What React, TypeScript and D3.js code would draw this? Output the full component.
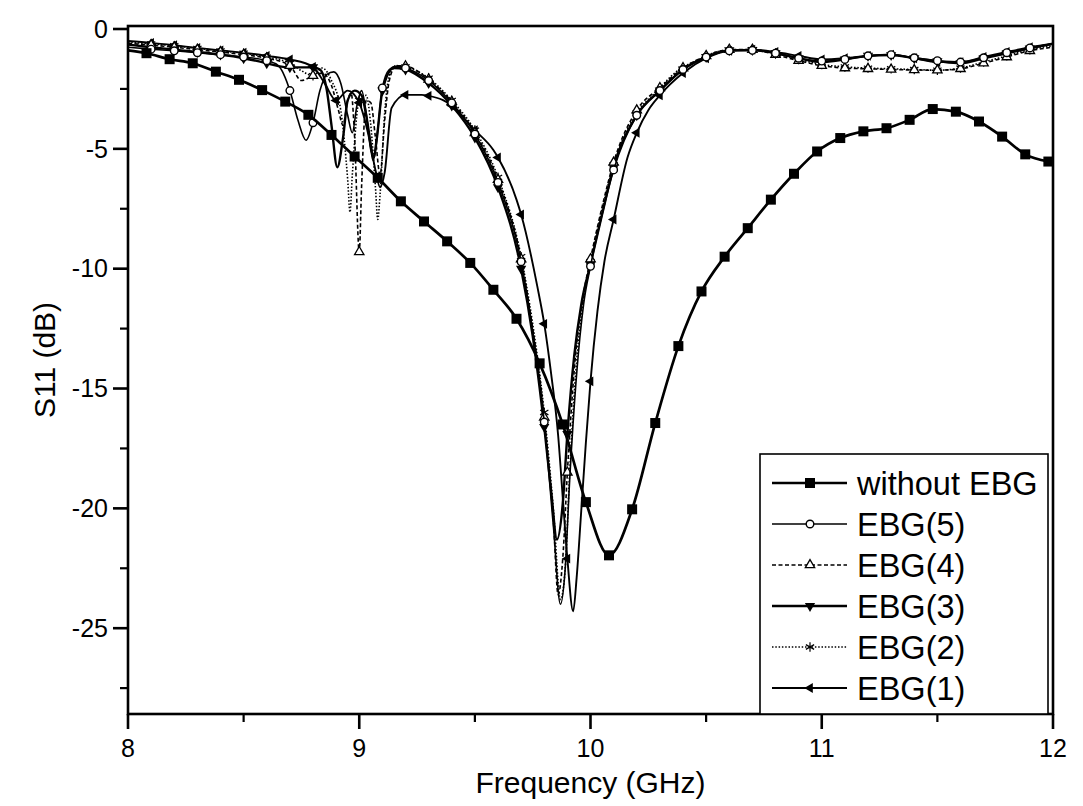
import React from 'react';
import * as d3 from 'd3';

type Pt = [number, number];

const W = 1083;
const H = 806;
const PLOT = { left: 128, right: 1053, top: 26, bottom: 714 };

const xDomain: [number, number] = [8, 12];
const yDomain: [number, number] = [-28.58, 0.125];
const xTicks = [8, 9, 10, 11, 12];
const xMinorTicks = [8.5, 9.5, 10.5, 11.5];
const yTicks = [0, -5, -10, -15, -20, -25];
const yMinorTicks = [-2.5, -7.5, -12.5, -17.5, -22.5, -27.5];

const xTitle = 'Frequency (GHz)';
const yTitle = 'S11 (dB)';
const legendNames = ['without EBG', 'EBG(5)', 'EBG(4)', 'EBG(3)', 'EBG(2)', 'EBG(1)'];

const withoutEbg: Pt[] = [
  [8.0, -0.89], [8.08, -1.01], [8.18, -1.26], [8.28, -1.43], [8.38, -1.78], [8.48, -2.12],
  [8.58, -2.55], [8.68, -3.03], [8.78, -3.58], [8.88, -4.42], [8.98, -5.32], [9.08, -6.21],
  [9.18, -7.19], [9.28, -8.03], [9.38, -8.86], [9.48, -9.76], [9.58, -10.88], [9.68, -12.09],
  [9.78, -13.95], [9.88, -16.5], [9.98, -19.74], [10.08, -21.96], [10.18, -20.04], [10.28, -16.44],
  [10.38, -13.23], [10.48, -10.95], [10.58, -9.5], [10.68, -8.31], [10.78, -7.12], [10.88, -6.04],
  [10.98, -5.11], [11.08, -4.55], [11.18, -4.27], [11.28, -4.14], [11.38, -3.79], [11.48, -3.34],
  [11.58, -3.45], [11.68, -3.86], [11.78, -4.49], [11.88, -5.23], [11.98, -5.53],
];

const ebg5: Pt[] = [
  [8.0, -0.76], [8.1, -0.84], [8.2, -0.91], [8.3, -0.99], [8.4, -1.07], [8.5, -1.17], [8.6, -1.32],
  [8.65, -1.53], [8.7, -2.57], [8.735, -3.81], [8.77, -4.64], [8.8, -3.91], [8.83, -2.57], [8.86, -1.89],
  [8.89, -1.79], [8.92, -2.26], [8.95, -3.6], [8.97, -4.33], [8.99, -3.19], [9.01, -2.57], [9.03, -3.5],
  [9.05, -5.05], [9.065, -5.36], [9.08, -4.22], [9.1, -2.46], [9.13, -1.69], [9.16, -1.55], [9.2, -1.63],
  [9.3, -2.15], [9.4, -3.08], [9.5, -4.38], [9.6, -6.4], [9.7, -9.71], [9.75, -12.6], [9.8, -16.4],
  [9.84, -20.8], [9.87, -24.0], [9.89, -22.6], [9.91, -18.8], [9.94, -14.4], [9.97, -11.5],
  [10.0, -9.9], [10.05, -7.74], [10.1, -5.88], [10.2, -3.6], [10.3, -2.57], [10.4, -1.69], [10.5, -1.17],
  [10.6, -0.91], [10.7, -0.89], [10.8, -1.01], [10.9, -1.22], [11.0, -1.34], [11.1, -1.27], [11.2, -1.12],
  [11.3, -1.07], [11.4, -1.2], [11.5, -1.32], [11.6, -1.38], [11.7, -1.2], [11.8, -0.99],
  [11.9, -0.79], [12.0, -0.62],
];

const ebg4: Pt[] = [
  [8.0, -0.6], [8.1, -0.67], [8.2, -0.76], [8.3, -0.86], [8.4, -0.96], [8.5, -1.07], [8.6, -1.22],
  [8.7, -1.53], [8.75, -2.15], [8.8, -1.95], [8.84, -1.84], [8.88, -2.36], [8.91, -3.39], [8.93, -4.02],
  [8.95, -2.98], [8.965, -2.67], [8.98, -4.53], [9.0, -9.3], [9.01, -6.6], [9.03, -2.98], [9.05, -3.08],
  [9.07, -4.53], [9.09, -6.09], [9.11, -3.81], [9.13, -2.15], [9.16, -1.53], [9.2, -1.55], [9.3, -2.1],
  [9.4, -3.03], [9.5, -4.33], [9.6, -6.29], [9.7, -9.6], [9.75, -12.5], [9.8, -16.2], [9.84, -20.6],
  [9.86, -23.6], [9.88, -22.1], [9.9, -18.5], [9.93, -14.2], [9.97, -11.05], [10.0, -9.6],
  [10.05, -7.43], [10.1, -5.57], [10.2, -3.39], [10.3, -2.46], [10.4, -1.63], [10.5, -1.12], [10.6, -0.86],
  [10.7, -0.86], [10.8, -1.07], [10.9, -1.32], [11.0, -1.53], [11.1, -1.63], [11.2, -1.66], [11.3, -1.69],
  [11.4, -1.71], [11.5, -1.72], [11.6, -1.66], [11.7, -1.43], [11.8, -1.17], [11.9, -0.91], [12.0, -0.76],
];

const ebg3: Pt[] = [
  [8.0, -0.65], [8.1, -0.76], [8.2, -0.86], [8.3, -0.96], [8.4, -1.07], [8.5, -1.22], [8.6, -1.43],
  [8.65, -1.55], [8.7, -1.6], [8.8, -1.6], [8.83, -1.69], [8.86, -2.57], [8.88, -4.02], [8.905, -5.77],
  [8.93, -4.53], [8.95, -2.98], [8.98, -2.57], [9.01, -2.77], [9.03, -3.6], [9.05, -4.84], [9.06, -5.46],
  [9.075, -4.64], [9.1, -2.57], [9.15, -1.63], [9.2, -1.69], [9.3, -2.26], [9.4, -3.19], [9.5, -4.53],
  [9.6, -6.6], [9.7, -10.0], [9.75, -12.8], [9.8, -16.6], [9.83, -19.3], [9.855, -21.3], [9.88, -19.8],
  [9.9, -16.9], [9.93, -13.6], [9.96, -11.5], [10.0, -9.81], [10.05, -7.74], [10.1, -5.77], [10.2, -3.6],
  [10.3, -2.57], [10.4, -1.69], [10.5, -1.17], [10.6, -0.89], [10.7, -0.88], [10.8, -1.01], [10.9, -1.22],
  [11.0, -1.38], [11.1, -1.27], [11.2, -1.12], [11.3, -1.09], [11.4, -1.22], [11.5, -1.34], [11.6, -1.43],
  [11.7, -1.22], [11.8, -1.01], [11.9, -0.81], [12.0, -0.62],
];

const ebg2: Pt[] = [
  [8.0, -0.55], [8.1, -0.62], [8.2, -0.7], [8.3, -0.81], [8.4, -0.91], [8.5, -1.01], [8.6, -1.17],
  [8.7, -1.43], [8.75, -1.74], [8.8, -1.95], [8.84, -1.63], [8.88, -2.15], [8.92, -3.39], [8.95, -6.29],
  [8.96, -7.64], [8.97, -6.09], [9.0, -2.98], [9.03, -2.77], [9.05, -4.02], [9.07, -6.6], [9.08, -7.95],
  [9.09, -6.91], [9.11, -3.5], [9.13, -1.95], [9.16, -1.53], [9.2, -1.58], [9.3, -2.05], [9.4, -2.98],
  [9.5, -4.22], [9.6, -6.19], [9.7, -9.5], [9.75, -12.3], [9.8, -16.0], [9.84, -20.1], [9.87, -23.8],
  [9.89, -22.6], [9.91, -18.5], [9.94, -13.85], [9.97, -11.26], [10.0, -9.71], [10.05, -7.53], [10.1, -5.67],
  [10.13, -4.84], [10.2, -3.5], [10.28, -2.67], [10.37, -1.79], [10.47, -1.27], [10.57, -0.91],
  [10.7, -0.86], [10.8, -1.01], [10.9, -1.27], [11.0, -1.48], [11.1, -1.58], [11.2, -1.63], [11.3, -1.66],
  [11.4, -1.69], [11.5, -1.72], [11.6, -1.63], [11.7, -1.38], [11.8, -1.12], [11.9, -0.86], [12.0, -0.7],
];

const ebg1: Pt[] = [
  [8.0, -0.5], [8.1, -0.58], [8.2, -0.68], [8.3, -0.79], [8.4, -0.89], [8.5, -0.99], [8.6, -1.12],
  [8.7, -1.27], [8.8, -1.58], [8.85, -2.26], [8.9, -2.98], [8.95, -2.57], [9.0, -3.08], [9.04, -4.43],
  [9.07, -5.88], [9.09, -6.6], [9.11, -5.98], [9.14, -3.29], [9.2, -2.75], [9.27, -2.75], [9.3, -2.79],
  [9.36, -2.96], [9.4, -3.19], [9.47, -3.91], [9.5, -4.22], [9.58, -5.05], [9.6, -5.36], [9.68, -7.12],
  [9.7, -7.74], [9.77, -10.74], [9.8, -12.3], [9.83, -14.4], [9.86, -16.95], [9.88, -19.54], [9.9, -22.1],
  [9.925, -24.3], [9.94, -22.9], [9.96, -20.1], [9.98, -17.26], [10.0, -14.7], [10.03, -11.78],
  [10.06, -9.71], [10.1, -7.95], [10.16, -5.36], [10.2, -4.33], [10.25, -3.39], [10.3, -2.77], [10.4, -1.84],
  [10.5, -1.22], [10.6, -0.91], [10.7, -0.86], [10.8, -0.96], [10.9, -1.12], [11.0, -1.27], [11.1, -1.22],
  [11.2, -1.12], [11.3, -1.07], [11.4, -1.22], [11.5, -1.38], [11.6, -1.38], [11.7, -1.17], [11.8, -0.96],
  [11.9, -0.76], [12.0, -0.6],
];

type MarkerKind = 'square' | 'circle' | 'triUp' | 'triDown' | 'plus' | 'triLeft';

interface Series {
  name: string;
  data: Pt[];
  width: number;
  dash?: string;
  marker: MarkerKind;
  markAll: boolean;
}

const series: Series[] = [
  { name: legendNames[5], data: ebg1, width: 1.9, marker: 'triLeft', markAll: false },
  { name: legendNames[4], data: ebg2, width: 1.6, dash: '1.5,1.8', marker: 'plus', markAll: false },
  { name: legendNames[3], data: ebg3, width: 2.4, marker: 'triDown', markAll: false },
  { name: legendNames[2], data: ebg4, width: 1.6, dash: '4,2.5', marker: 'triUp', markAll: false },
  { name: legendNames[1], data: ebg5, width: 1.6, marker: 'circle', markAll: false },
  { name: legendNames[0], data: withoutEbg, width: 2.7, marker: 'square', markAll: true },
];

const FONT = '"Liberation Sans", Arial, Helvetica, sans-serif';

function Marker({ kind, x, y }: { kind: MarkerKind; x: number; y: number }) {
  const ink = '#000';
  switch (kind) {
    case 'square':
      return <rect x={x - 5} y={y - 5} width={10} height={10} fill={ink} />;
    case 'circle':
      return <circle cx={x} cy={y} r={3.8} fill="#fff" stroke={ink} strokeWidth={1.4} />;
    case 'triUp':
      return (
        <path
          d={d3.symbol(d3.symbolTriangle, 38)() || ''}
          transform={`translate(${x},${y})`}
          fill="#fff"
          stroke={ink}
          strokeWidth={1.3}
        />
      );
    case 'triDown':
      return (
        <path
          d={d3.symbol(d3.symbolTriangle, 46)() || ''}
          transform={`translate(${x},${y}) rotate(180)`}
          fill={ink}
        />
      );
    case 'triLeft':
      return (
        <path
          d={d3.symbol(d3.symbolTriangle, 42)() || ''}
          transform={`translate(${x},${y}) rotate(-90)`}
          fill={ink}
        />
      );
    case 'plus':
    default:
      return (
        <path
          d={d3.symbol(d3.symbolAsterisk, 64)() || ''}
          transform={`translate(${x},${y})`}
          fill="none"
          stroke={ink}
          strokeWidth={1.2}
        />
      );
  }
}

export default function App() {
  const x = d3.scaleLinear().domain(xDomain).range([PLOT.left, PLOT.right]);
  const y = d3.scaleLinear().domain(yDomain).range([PLOT.bottom, PLOT.top]);
  const line = d3
    .line<Pt>()
    .x((d) => x(d[0]))
    .y((d) => y(d[1]))
    .curve(d3.curveMonotoneX);

  const isGrid = (f: number) => Math.abs(f * 10 - Math.round(f * 10)) < 1e-6;

  const legend = { x: 760, y: 454, w: 288, h: 260, row0: 483, step: 41 };
  const legendOrder = [...series].reverse();

  return (
    <svg
      width={W}
      height={H}
      viewBox={`0 0 ${W} ${H}`}
      style={{ position: 'absolute', left: 0, top: 0, background: '#fff' }}
      fontFamily={FONT}
    >
      <defs>
        <clipPath id="plotClip">
          <rect x={PLOT.left} y={PLOT.top} width={PLOT.right - PLOT.left} height={PLOT.bottom - PLOT.top} />
        </clipPath>
      </defs>
      <rect x={0} y={0} width={W} height={H} fill="#fff" />

      <g clipPath="url(#plotClip)">
        {series.map((s) => (
          <g key={s.name}>
            <path
              d={line(s.data) || ''}
              fill="none"
              stroke="#000"
              strokeWidth={s.width}
              strokeDasharray={s.dash}
              strokeLinejoin="round"
            />
            {s.data
              .filter((d, i) => (s.markAll ? i > 0 : isGrid(d[0]) && d[0] > 8 && d[0] < 12))
              .map((d, i) => (
                <Marker key={i} kind={s.marker} x={x(d[0])} y={y(d[1])} />
              ))}
          </g>
        ))}
      </g>

      <rect
        x={PLOT.left}
        y={PLOT.top}
        width={PLOT.right - PLOT.left}
        height={PLOT.bottom - PLOT.top}
        fill="none"
        stroke="#000"
        strokeWidth={2.6}
      />

      {xTicks.map((t) => (
        <g key={`xt${t}`}>
          <line x1={x(t)} x2={x(t)} y1={PLOT.bottom} y2={PLOT.bottom + 15} stroke="#000" strokeWidth={2.6} />
          <text x={x(t)} y={PLOT.bottom + 43} fontSize={25} textAnchor="middle" fill="#000">
            {t}
          </text>
        </g>
      ))}
      {xMinorTicks.map((t) => (
        <line key={`xm${t}`} x1={x(t)} x2={x(t)} y1={PLOT.bottom} y2={PLOT.bottom + 8} stroke="#000" strokeWidth={2.2} />
      ))}

      {yTicks.map((t) => (
        <g key={`yt${t}`}>
          <line x1={PLOT.left - 15} x2={PLOT.left} y1={y(t)} y2={y(t)} stroke="#000" strokeWidth={2.6} />
          <text x={PLOT.left - 20} y={y(t)} dy="0.35em" fontSize={25} textAnchor="end" fill="#000">
            {t}
          </text>
        </g>
      ))}
      {yMinorTicks
        .filter((t) => t >= yDomain[0])
        .map((t) => (
          <line key={`ym${t}`} x1={PLOT.left - 8} x2={PLOT.left} y1={y(t)} y2={y(t)} stroke="#000" strokeWidth={2.2} />
        ))}

      <text x={x(10)} y={793} fontSize={30} textAnchor="middle" fill="#000">
        {xTitle}
      </text>
      <text transform={`translate(55, ${360}) rotate(-90)`} fontSize={30} textAnchor="middle" fill="#000">
        {yTitle}
      </text>

      <rect x={legend.x} y={legend.y} width={legend.w} height={legend.h} fill="#fff" stroke="#000" strokeWidth={1.6} />
      {legendOrder.map((s, i) => {
        const ly = legend.row0 + i * legend.step;
        return (
          <g key={`lg${s.name}`}>
            <line x1={772} x2={847} y1={ly} y2={ly} stroke="#000" strokeWidth={s.width} strokeDasharray={s.dash} />
            <Marker kind={s.marker} x={810} y={ly} />
            <text x={857} y={ly} dy="0.36em" fontSize={32.5} fill="#000">
              {s.name}
            </text>
          </g>
        );
      })}
    </svg>
  );
}
